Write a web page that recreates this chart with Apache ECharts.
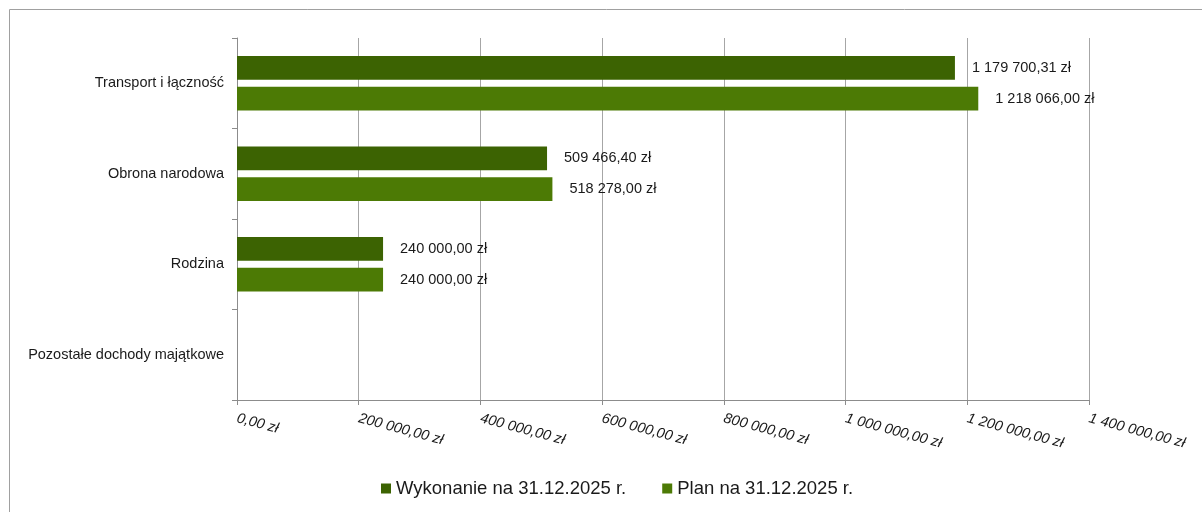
<!DOCTYPE html>
<html>
<head>
<meta charset="utf-8">
<script src="https://cdn.jsdelivr.net/npm/echarts@6/dist/echarts.min.js"></script>
<style>
  html, body { margin: 0; padding: 0; background: #fff; }
  #wykres { width: 1202px; height: 512px; }
</style>
</head>
<body>
<div id="wykres"></div>
<script>
// dane z wykresu
const kategorie = [
  "Transport i łączność",
  "Obrona narodowa",
  "Rodzina",
  "Pozostałe dochody majątkowe"
];
const wykonanie = [1179700.31, 509466.40, 240000.00, null];
const plan = [1218066.00, 518278.00, 240000.00, null];
const nazwySerii = ["Wykonanie na 31.12.2025 r.", "Plan na 31.12.2025 r."];
const kolory = ["#3c6302", "#4c7a05"];

// format polski: 1 179 700,31 zł
function zl(v) {
  let [calosc, grosze] = Number(v).toFixed(2).split(".");
  calosc = calosc.replace(/\B(?=(\d{3})+(?!\d))/g, " ");
  return calosc + "," + grosze + " zł";
}

const font = "'Liberation Sans', Arial, sans-serif";

const etykieta = {
  show: true,
  position: "right",
  distance: 17,
  color: "#1a1a1a",
  fontSize: 14.5,
  fontFamily: font,
  formatter: (p) => zl(p.value)
};

let myChart = echarts.init(document.getElementById("wykres"));
myChart.setOption({
  animation: false,
  grid: { left: 237, right: 113, top: 38, bottom: 112 },
  graphic: [{
    type: "rect",
    shape: { x: 9.5, y: 9.5, width: 1400, height: 700 },
    style: { fill: "none", stroke: "#a0a0a0", lineWidth: 1 },
    silent: true
  }],
  legend: {
    top: 474,
    left: 376,
    itemWidth: 10,
    itemHeight: 10,
    itemGap: 36,
    icon: "rect",
    textStyle: { fontSize: 18.5, fontFamily: font, color: "#1a1a1a" },
    data: nazwySerii
  },
  xAxis: {
    type: "value",
    min: 0,
    max: 1400000,
    interval: 200000,
    axisLine: { show: true, lineStyle: { color: "#8c8c8c" } },
    axisTick: { show: true, length: 5, lineStyle: { color: "#8c8c8c" } },
    splitLine: { show: true, lineStyle: { color: "#a6a6a6" } },
    axisLabel: {
      rotate: -15,
      margin: 18,
      fontSize: 14.5,
      fontStyle: "italic",
      fontFamily: font,
      color: "#1a1a1a",
      formatter: (v) => zl(v)
    }
  },
  yAxis: {
    type: "category",
    inverse: true,
    data: kategorie,
    axisLine: { show: true, lineStyle: { color: "#8c8c8c" } },
    axisTick: { show: true, length: 5, lineStyle: { color: "#8c8c8c" } },
    axisLabel: {
      margin: 13,
      fontSize: 14.5,
      fontFamily: font,
      color: "#1a1a1a"
    }
  },
  series: [
    {
      name: nazwySerii[0],
      type: "bar",
      data: wykonanie,
      barCategoryGap: "40%",
      barGap: "30%",
      itemStyle: { color: kolory[0] },
      label: etykieta
    },
    {
      name: nazwySerii[1],
      type: "bar",
      data: plan,
      barCategoryGap: "40%",
      barGap: "30%",
      itemStyle: { color: kolory[1] },
      label: etykieta
    }
  ]
});
</script>
</body>
</html>
